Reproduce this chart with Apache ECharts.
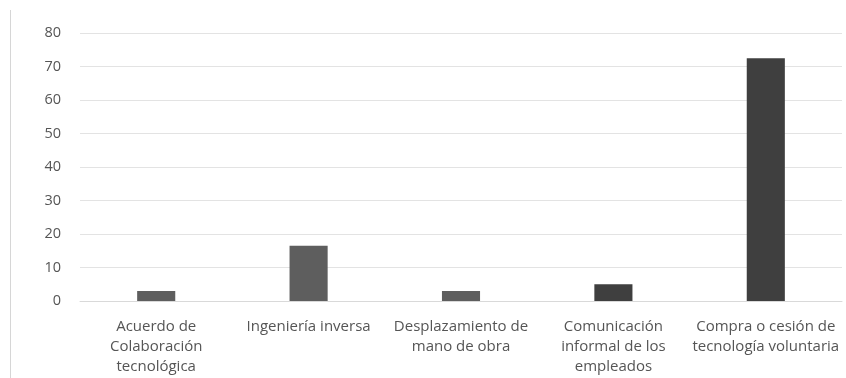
<!DOCTYPE html>
<html>
<head>
<meta charset="utf-8">
<script src="https://cdn.jsdelivr.net/npm/echarts@6/dist/echarts.min.js"></script>
<style>
html, body { margin: 0; padding: 0; background: #fff; }
#chart { width: 846px; height: 378px; }
</style>
</head>
<body>
<div id="chart"></div>
<script>
// categorias del eje x
var categories = [
    'Acuerdo de\nColaboración\ntecnológica',
    'Ingeniería inversa',
    'Desplazamiento de\nmano de obra',
    'Comunicación\ninformal de los\nempleados',
    'Compra o cesión de\ntecnología voluntaria'
];
var values = [3, 16.5, 3, 5, 72.5];
var yTicks = [0, 80, 10]; // min, max, intervalo

// colores de cada barra
var barColors = ['#5e5e5e', '#5e5e5e', '#5e5e5e', '#3f3f3f', '#3f3f3f'];

var myChart = echarts.init(document.getElementById('chart'));
var dataList = [];
for (var i = 0; i < values.length; i++) {
    dataList.push({
        value: values[i],
        itemStyle: { color: barColors[i] }
    });
}
var option = {
    animation: false,
    grid: { left: 80, right: 4, top: 33, bottom: 77 },
    xAxis: {
        type: 'category',
        data: categories,
        axisLine: { show: true, lineStyle: { color: '#d9d9d9' } },
        axisTick: { show: false },
        axisLabel: {
            interval: 0,
            color: '#555555',
            fontFamily: 'Open Sans',
            fontSize: 15,
            lineHeight: 20,
            margin: 16
        }
    },
    yAxis: {
        type: 'value',
        min: yTicks[0],
        max: yTicks[1],
        interval: yTicks[2],
        axisLine: { show: false },
        axisTick: { show: false },
        axisLabel: {
            color: '#555555',
            fontFamily: 'Open Sans',
            fontSize: 14.5,
            margin: 19
        },
        splitLine: { lineStyle: { color: '#e3e3e3', width: 1 } }
    },
    series: [{
        type: 'bar',
        barWidth: '25%',
        data: dataList
    }],
    graphic: [{
        type: 'line',
        shape: { x1: 10.5, y1: 10, x2: 10.5, y2: 378 },
        style: { stroke: '#d6d6d6', lineWidth: 1 }
    }]
};
myChart.setOption(option);
</script>
</body>
</html>
